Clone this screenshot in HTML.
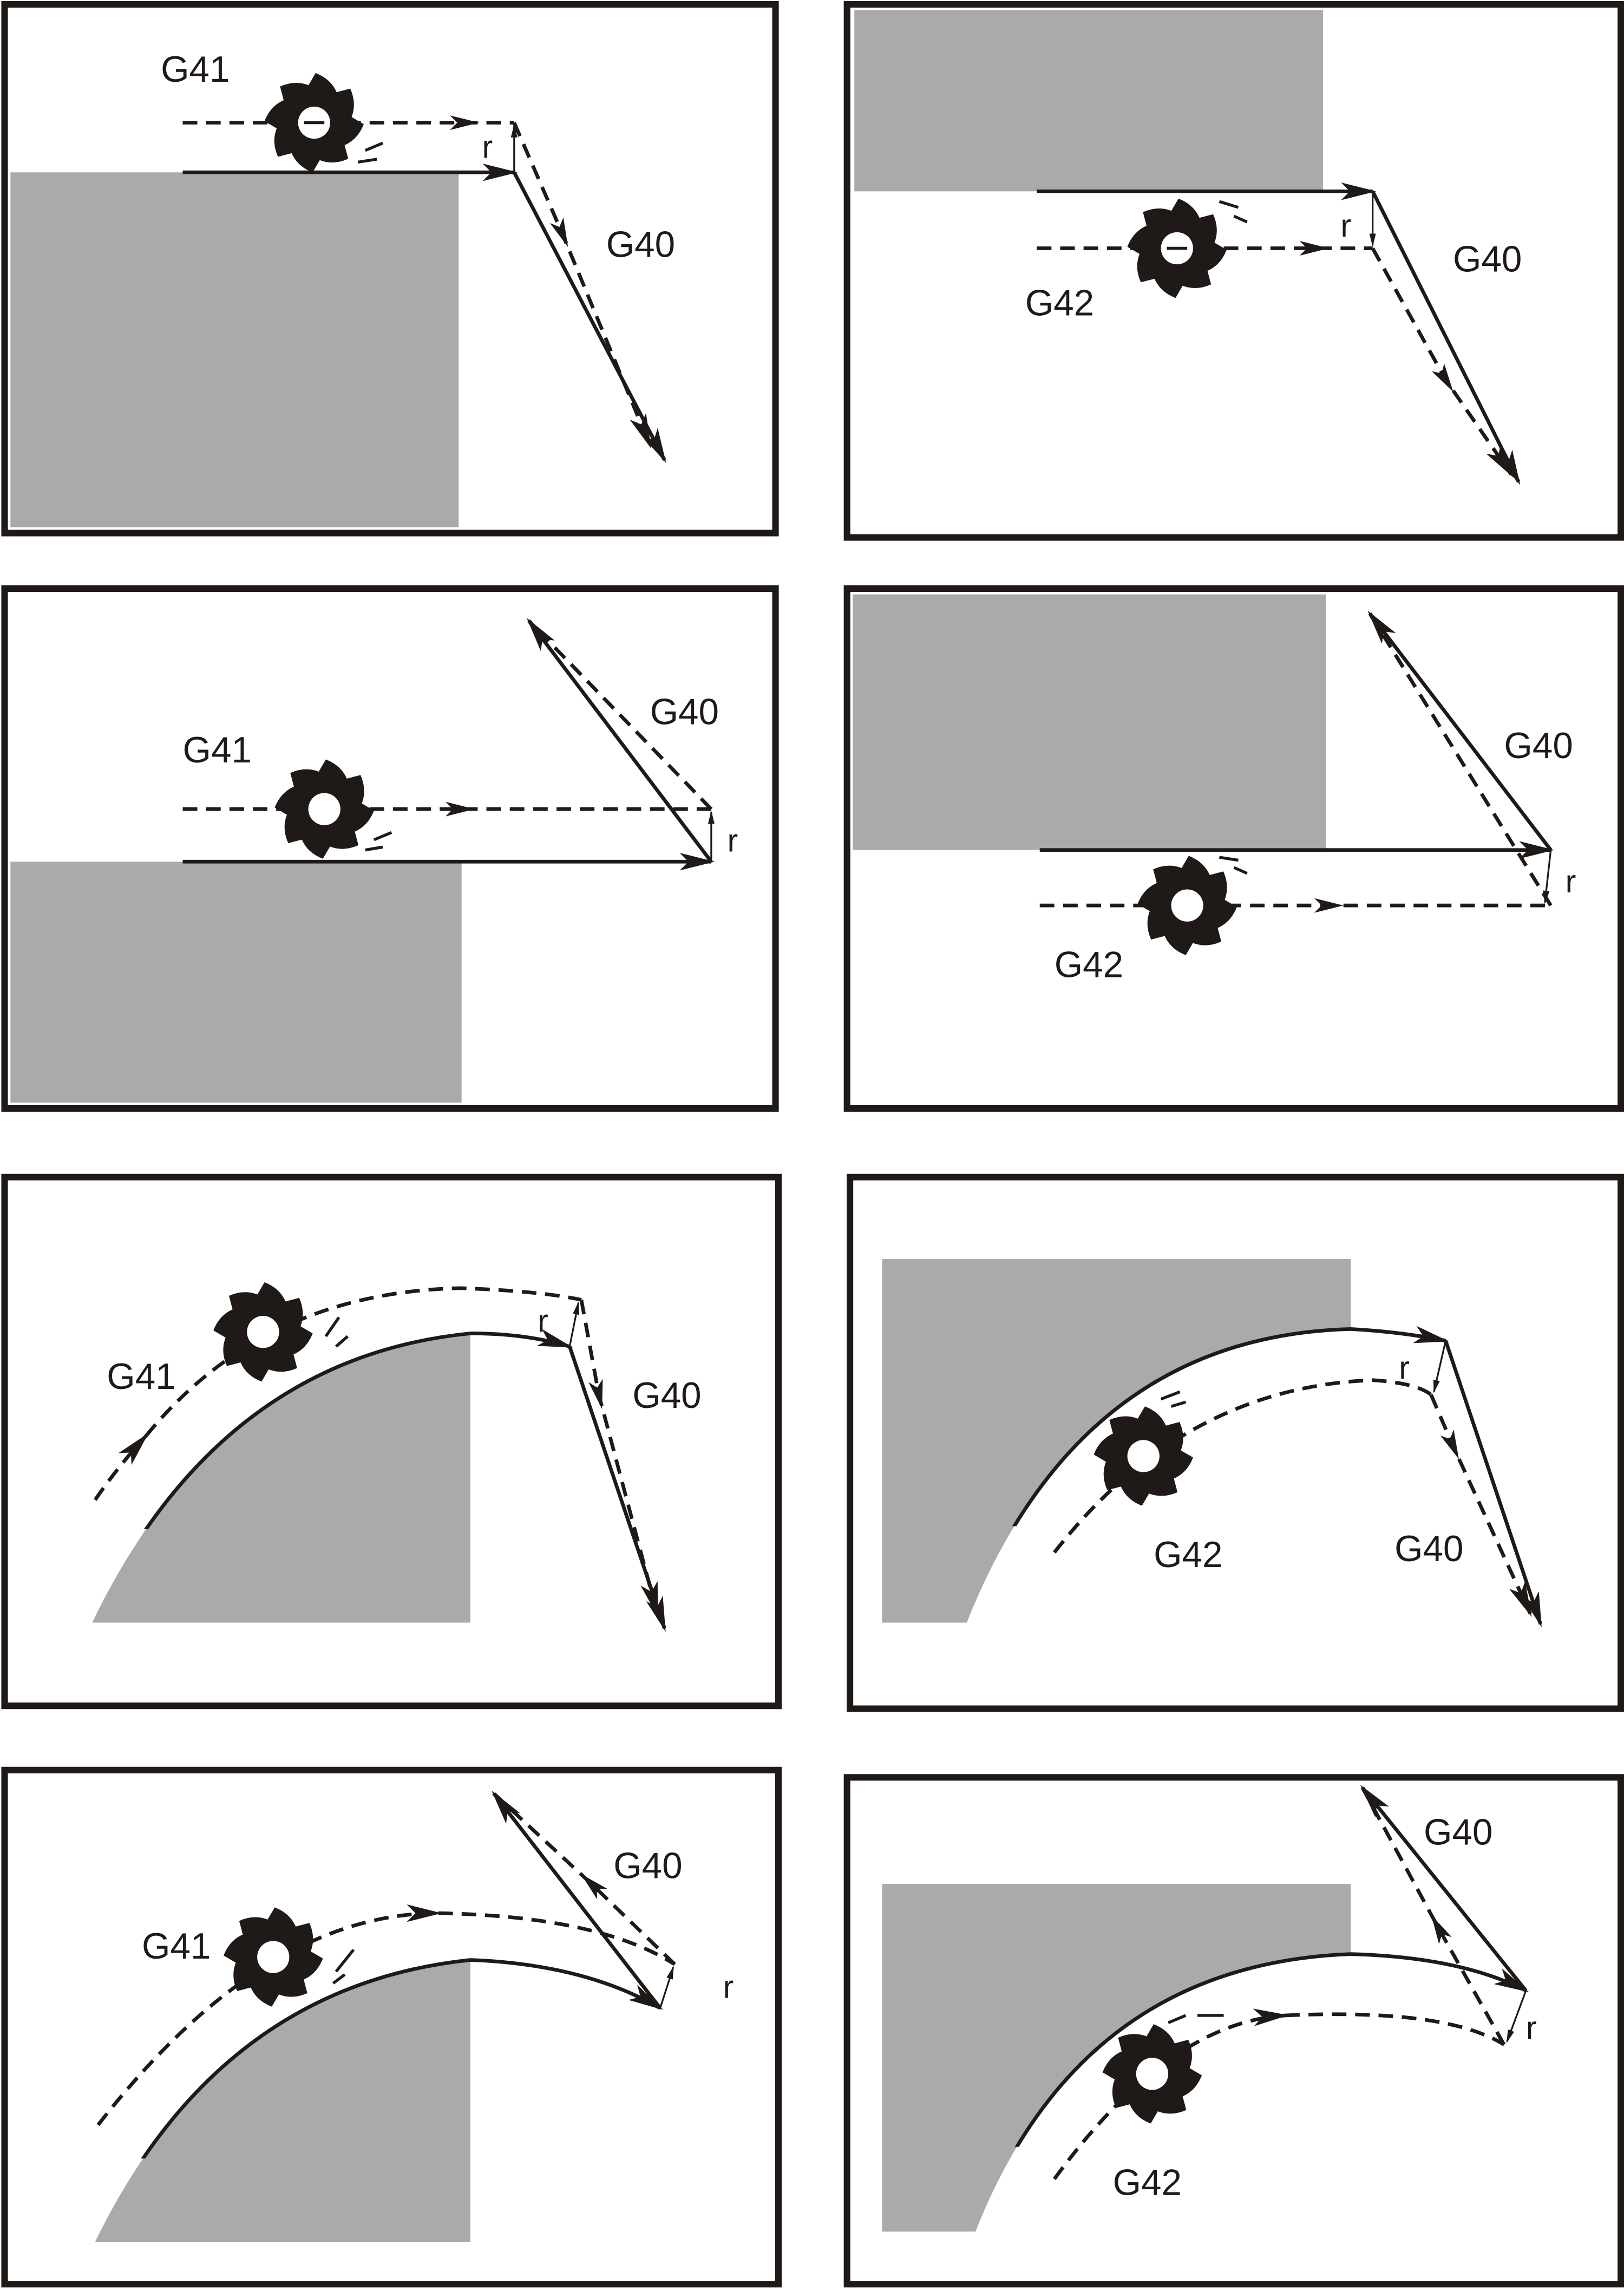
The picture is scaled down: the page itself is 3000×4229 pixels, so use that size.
<!DOCTYPE html>
<html><head><meta charset="utf-8"><style>html,body{margin:0;padding:0;background:#fff}svg{display:block}</style></head>
<body>
<svg width="3000" height="4229" viewBox="0 0 1112 1568" xmlns="http://www.w3.org/2000/svg" font-family="Liberation Sans, sans-serif" font-size="25" fill="#1f1a17">
<defs>
<marker id="a" viewBox="0 0 20 10" refX="18" refY="5" markerWidth="24" markerHeight="12" markerUnits="userSpaceOnUse" orient="auto"><path d="M0,0 L20,5 L0,10 L5,5 Z" fill="#1f1a17"/></marker>
<marker id="m" viewBox="0 0 20 10" refX="10" refY="5" markerWidth="20" markerHeight="10" markerUnits="userSpaceOnUse" orient="auto"><path d="M0,0 L20,5 L0,10 L5,5 Z" fill="#1f1a17"/></marker>
<marker id="s" viewBox="0 0 20 10" refX="18" refY="5" markerWidth="9" markerHeight="6" markerUnits="userSpaceOnUse" orient="auto"><path d="M0,0 L20,5 L0,10 Z" fill="#1f1a17"/></marker>
<clipPath id="c5"><rect x="0" y="800" width="1112" height="247"/></clipPath>
<clipPath id="c6"><rect x="0" y="800" width="1112" height="245"/></clipPath>
<clipPath id="c7"><rect x="0" y="1200" width="1112" height="278"/></clipPath>
<clipPath id="c8"><rect x="0" y="1200" width="1112" height="270"/></clipPath>
<g id="cut">
<circle r="23" fill="#1f1a17"/>
<g fill="#1f1a17">
<path id="t" d="M-6,-22 L1,-34 Q14,-29 17,-16 Z"/>
<use href="#t" transform="rotate(45)"/><use href="#t" transform="rotate(90)"/><use href="#t" transform="rotate(135)"/>
<use href="#t" transform="rotate(180)"/><use href="#t" transform="rotate(225)"/><use href="#t" transform="rotate(270)"/><use href="#t" transform="rotate(315)"/>
</g>
<circle r="11" fill="#fff"/>
</g>
</defs>
<g stroke="#1f1a17" stroke-width="4.5" fill="none">
<rect x="3" y="3" width="528" height="362"/>
<rect x="580" y="3" width="530" height="365"/>
<rect x="3" y="403" width="528" height="356"/>
<rect x="580" y="403" width="530" height="356"/>
<rect x="3" y="806" width="530" height="362"/>
<rect x="582" y="806" width="528" height="364"/>
<rect x="3" y="1212" width="530" height="352"/>
<rect x="580" y="1217" width="530" height="347"/>
</g>
<g fill="#aaaaaa">
<rect x="7" y="118" width="307" height="243"/>
<rect x="585" y="7" width="321" height="124"/>
<rect x="7" y="590" width="309" height="165"/>
<rect x="584" y="407" width="324" height="175"/>
<path d="M63,1111 Q150,930 322,913 L322,1111 Z"/>
<path d="M604,862 L925,862 L925,910 Q740,915 662,1111 L604,1111 Z"/>
<path d="M65,1535 Q150,1360 322,1342 L322,1535 Z"/>
<path d="M604,1290 L925,1290 L925,1338 Q740,1345 668,1528 L604,1528 Z"/>
</g>
<g stroke="#1f1a17" stroke-width="2.5" fill="none">
<!-- P1 -->
<line x1="125" y1="118" x2="352" y2="118" marker-end="url(#a)"/>
<path d="M125,84 L318,84 L352,84" stroke-dasharray="10,6" marker-mid="url(#m)"/>
<line x1="352" y1="118" x2="455" y2="315" marker-end="url(#a)"/>
<path d="M352,84 L385,160 L445,305" stroke-dasharray="10,6" marker-mid="url(#m)" marker-end="url(#a)"/>
<line x1="352" y1="118" x2="352" y2="86" stroke-width="1.2" marker-end="url(#s)"/>
<!-- P2 -->
<line x1="710" y1="131" x2="940" y2="131" marker-end="url(#a)"/>
<path d="M710,170 L900,170 L940,170" stroke-dasharray="10,6" marker-mid="url(#m)"/>
<line x1="940" y1="131" x2="1040" y2="330" marker-end="url(#a)"/>
<path d="M940,170 L990,260 L1035,325" stroke-dasharray="10,6" marker-mid="url(#m)" marker-end="url(#a)"/>
<line x1="940" y1="133" x2="940" y2="168" stroke-width="1.2" marker-end="url(#s)"/>
<!-- P3 -->
<line x1="125" y1="590" x2="487" y2="590" marker-end="url(#a)"/>
<path d="M125,554 L315,554 L487,554" stroke-dasharray="10,6" marker-mid="url(#m)"/>
<line x1="487" y1="590" x2="362" y2="425" marker-end="url(#a)"/>
<path d="M487,554 L362,425" stroke-dasharray="10,6"/>
<line x1="487" y1="590" x2="487" y2="556" stroke-width="1.2" marker-end="url(#s)"/>
<!-- P4 -->
<line x1="712" y1="582" x2="1062" y2="582" marker-end="url(#a)"/>
<path d="M712,620 L910,620 L1062,620" stroke-dasharray="10,6" marker-mid="url(#m)"/>
<line x1="1062" y1="582" x2="938" y2="420" marker-end="url(#a)"/>
<path d="M1062,620 L938,420" stroke-dasharray="10,6"/>
<line x1="1062" y1="582" x2="1058" y2="618" stroke-width="1.2" marker-end="url(#s)"/>
<!-- P5 -->
<path d="M63,1111 Q150,930 322,913" clip-path="url(#c5)"/>
<path d="M322,913 Q360,913 390,922" marker-end="url(#a)"/>
<path d="M65,1027 Q80,1005 100,983" stroke-dasharray="10,6" marker-end="url(#a)"/>
<path d="M100,983 Q180,885 315,882 Q370,884 398,890" stroke-dasharray="10,6"/>
<line x1="390" y1="922" x2="455" y2="1115" marker-end="url(#a)"/>
<path d="M398,890 L410,955 L450,1105" stroke-dasharray="10,6" marker-mid="url(#m)" marker-end="url(#a)"/>
<line x1="390" y1="922" x2="396" y2="892" stroke-width="1.2" marker-end="url(#s)"/>
<!-- P6 -->
<path d="M662,1111 Q740,915 925,910" clip-path="url(#c6)"/>
<path d="M925,910 Q960,912 990,918" marker-end="url(#a)"/>
<path d="M722,1063 Q810,950 940,945 Q970,947 980,955" stroke-dasharray="10,6"/>
<line x1="990" y1="918" x2="1055" y2="1112" marker-end="url(#a)"/>
<path d="M980,955 L995,990 L1048,1105" stroke-dasharray="10,6" marker-mid="url(#m)" marker-end="url(#a)"/>
<line x1="990" y1="918" x2="982" y2="953" stroke-width="1.2" marker-end="url(#s)"/>
<!-- P7 -->
<path d="M65,1535 Q150,1360 322,1342" clip-path="url(#c7)"/>
<path d="M322,1342 Q400,1345 452,1375" marker-end="url(#a)"/>
<path d="M67,1455 Q180,1310 300,1310" stroke-dasharray="10,6" marker-end="url(#a)"/>
<path d="M300,1310 Q410,1312 462,1345" stroke-dasharray="10,6"/>
<line x1="452" y1="1375" x2="338" y2="1228" marker-end="url(#a)"/>
<path d="M462,1345 L405,1290 L338,1228" stroke-dasharray="10,6" marker-mid="url(#m)"/>
<line x1="452" y1="1375" x2="461" y2="1347" stroke-width="1.2" marker-end="url(#s)"/>
<!-- P8 -->
<path d="M668,1528 Q740,1345 925,1338" clip-path="url(#c8)"/>
<path d="M925,1338 Q1000,1340 1045,1363" marker-end="url(#a)"/>
<path d="M722,1492 Q800,1385 880,1380" stroke-dasharray="10,6" marker-end="url(#a)"/>
<path d="M880,1380 Q990,1375 1030,1400" stroke-dasharray="10,6"/>
<line x1="1045" y1="1363" x2="933" y2="1224" marker-end="url(#a)"/>
<path d="M1030,1400 L985,1320 L933,1224" stroke-dasharray="10,6" marker-mid="url(#m)"/>
<line x1="1045" y1="1363" x2="1032" y2="1398" stroke-width="1.2" marker-end="url(#s)"/>
</g>
<use href="#cut" x="215" y="84"/>
<use href="#cut" x="806" y="170"/>
<use href="#cut" x="222" y="554"/>
<use href="#cut" x="813" y="620"/>
<use href="#cut" x="180" y="912"/>
<use href="#cut" x="783" y="997"/>
<use href="#cut" x="187" y="1340"/>
<use href="#cut" x="789" y="1420"/>
<g stroke="#1f1a17" stroke-width="2">
<line x1="208" y1="84" x2="222" y2="84"/><line x1="799" y1="170" x2="813" y2="170"/>
<line x1="250" y1="103" x2="262" y2="98"/><line x1="245" y1="111" x2="258" y2="109"/>
<line x1="835" y1="138" x2="848" y2="142"/><line x1="845" y1="148" x2="854" y2="152"/>
<line x1="256" y1="575" x2="268" y2="570"/><line x1="250" y1="582" x2="262" y2="580"/>
<line x1="835" y1="587" x2="848" y2="589"/><line x1="845" y1="594" x2="854" y2="598"/>
<line x1="223" y1="915" x2="232" y2="902"/><line x1="230" y1="922" x2="238" y2="915"/>
<line x1="795" y1="958" x2="808" y2="953"/><line x1="802" y1="963" x2="812" y2="960"/>
<line x1="230" y1="1350" x2="242" y2="1335"/><line x1="228" y1="1358" x2="236" y2="1352"/>
<line x1="800" y1="1385" x2="812" y2="1380"/><line x1="820" y1="1380" x2="838" y2="1380"/>
</g>
<text x="110" y="56">G41</text><text x="415" y="176">G40</text><text x="330" y="108" font-size="22">r</text>
<text x="702" y="216">G42</text><text x="995" y="186">G40</text><text x="918" y="162" font-size="22">r</text>
<text x="125" y="522">G41</text><text x="445" y="496">G40</text><text x="498" y="583" font-size="22">r</text>
<text x="722" y="669">G42</text><text x="1030" y="519">G40</text><text x="1072" y="611" font-size="22">r</text>
<text x="73" y="951">G41</text><text x="433" y="964">G40</text><text x="368" y="912" font-size="22">r</text>
<text x="790" y="1073">G42</text><text x="955" y="1069">G40</text><text x="958" y="944" font-size="22">r</text>
<text x="97" y="1341">G41</text><text x="420" y="1286">G40</text><text x="495" y="1368" font-size="22">r</text>
<text x="762" y="1503">G42</text><text x="975" y="1263">G40</text><text x="1045" y="1396" font-size="22">r</text>
</svg>
</body></html>
